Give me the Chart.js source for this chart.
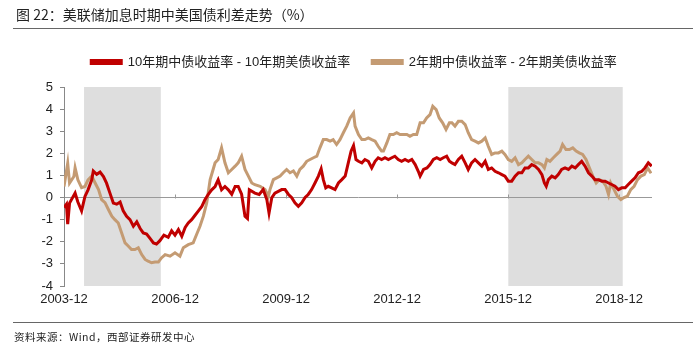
<!DOCTYPE html>
<html>
<head>
<meta charset="utf-8">
<script src="https://cdn.jsdelivr.net/npm/chart.js@4.4.0/dist/chart.umd.min.js"></script>
<style>
  html, body { margin: 0; padding: 0; background: #fff; }
  #wrap { position: relative; width: 693px; height: 347px; overflow: hidden; }
  #chart { position: absolute; left: 0; top: 0; }
  .title { position: absolute; left: 16px; top: 4px; font: 14px "Noto Sans CJK SC", sans-serif; color: #222; }
  .rule { position: absolute; left: 13px; right: 0; height: 1px; background: #666; }
  .source { position: absolute; left: 14px; top: 329px; font: 10.5px "Noto Sans CJK SC", sans-serif; color: #222; letter-spacing: 0.5px; }
</style>
</head>
<body>
<div id="wrap">
  <canvas id="chart" width="693" height="347"></canvas>
  <div class="title">图 22：美联储加息时期中美国债利差走势（%）</div>
  <div class="rule" style="top:28px"></div>
  <div class="rule" style="top:322px"></div>
  <div class="source">资料来源：Wind，西部证券研发中心</div>
</div>
<script>
// months counted from 2003-12
const seriesNames = ['10年期中债收益率 - 10年期美债收益率', '2年期中债收益率 - 2年期美债收益率'];

const spread10yMonths = [0, 0.8, 1.2, 1.8, 3.6, 4.5, 5.7, 6.8, 7.8, 9, 9.5, 10.6, 11.7, 12.8, 13.8, 14.9, 16, 17.1, 18.2, 19.2,
  20.3, 21.4, 22.5, 23.6, 24.7, 25.7, 26.8, 27.9, 29, 30, 31.1, 32.4, 33.8, 34.9, 36, 37.1, 38.2, 39.3, 40.3, 41.4,
  42.5, 43.6, 44.7, 45.7, 46.8, 47.9, 49, 50, 51.1, 52.2, 53.3, 54.4, 55.5, 56.5, 57.6, 58.7, 59.5, 60.1, 61.9, 63.3,
  64.6, 65.8, 66.5, 67.4, 68.4, 69.5, 70.6, 71.7, 72.8, 73.8, 74.9, 76, 77.1, 78.2, 79.2, 80.3, 81.4, 82.5, 83.4, 84.1,
  84.9, 85.7, 86.8, 87.9, 89, 90.1, 91.2, 92.2, 93.1, 93.9, 94.7, 95.5, 96.6, 97.6, 98.7, 99.8, 100.9, 101.9, 103, 104.1,
  105.2, 106.3, 107.3, 108.4, 109.5, 110.6, 111.7, 112.8, 113.9, 114.9, 115.5, 116.6, 117.7, 118.7, 119.8, 120.9, 122, 123, 124.1, 125,
  125.8, 126.8, 127.9, 129, 130.1, 131.1, 132.2, 133.3, 134.4, 135.5, 136.6, 137.6, 138.7, 139.8, 140.9, 142, 143, 144.1, 145.2, 146.3,
  147.4, 148.5, 149.5, 150.6, 151.7, 152.8, 153.9, 155, 155.8, 156.4, 157.1, 158.2, 159.3, 160.3, 161.4, 162.5, 163.6, 164.7, 165.8, 166.8,
  167.9, 169, 170.1, 171.2, 172.2, 173.3, 174.4, 175.5, 176.6, 177.6, 178.7, 179.8, 180.9, 182, 183, 184.1, 185.2, 186.3, 187.4, 188.4,
  189.5, 190.6];
const spread10y = [-0.45, -0.3, -1.2, -0.25, 0.2, -0.2, -0.6, 0.05, 0.35, 0.8, 1.2, 1.05, 1.15, 0.95, 0.65, 0.2, -0.25, -0.3, -0.2, -0.6,
  -0.85, -1.0, -1.3, -1.1, -1.4, -1.6, -1.65, -1.85, -2.05, -2.1, -1.95, -1.7, -1.8, -1.5, -1.7, -1.45, -1.75, -1.35, -1.15, -1.0,
  -0.8, -0.6, -0.4, -0.1, 0.15, 0.35, 0.5, 0.8, 0.35, 0.5, 0.35, 0.15, 0.5, 0.5, 0.15, -0.85, -0.95, 0.35, 0.2, 0.14,
  0.36, -0.1, -0.7, 0.0, 0.2, 0.28, 0.36, 0.36, 0.14, 0.0, -0.24, -0.4, -0.24, 0.0, 0.14, 0.36, 0.66, 0.97, 1.3, 0.81,
  0.44, 0.51, 0.44, 0.36, 0.66, 0.81, 0.97, 1.57, 2.1, 2.35, 1.72, 1.64, 1.57, 1.72, 1.64, 1.34, 1.64, 1.8, 1.72, 1.8,
  1.72, 1.8, 1.87, 1.72, 1.64, 1.72, 1.64, 1.72, 1.49, 1.19, 0.97, 1.27, 1.34, 1.49, 1.72, 1.8, 1.72, 1.8, 1.87, 1.64,
  1.57, 1.49, 1.72, 1.87, 1.57, 1.27, 1.57, 1.72, 1.57, 1.42, 1.64, 1.27, 1.34, 1.19, 1.12, 1.04, 0.97, 0.74, 0.74, 0.97,
  1.12, 1.12, 1.34, 1.34, 1.49, 1.42, 1.27, 1.04, 0.66, 0.51, 0.81, 0.97, 0.89, 1.04, 1.27, 1.34, 1.27, 1.42, 1.34, 1.49,
  1.64, 1.42, 1.12, 0.97, 0.81, 0.81, 0.74, 0.74, 0.66, 0.59, 0.51, 0.36, 0.44, 0.44, 0.59, 0.74, 0.89, 1.12, 1.19, 1.34,
  1.57, 1.42];

const spread2yMonths = [0, 1.2, 1.8, 3.2, 3.6, 4.5, 5.7, 6.8, 7.8, 9, 10.1, 11.2, 12.2, 13.3, 14.4, 15.5, 16.5, 17.6, 18.7, 19.8,
  20.9, 21.9, 23, 24.1, 25.2, 26.3, 27.3, 28.4, 29.5, 30.6, 31.6, 32.8, 34.4, 36, 37.6, 38.7, 40.3, 41.9, 43, 44.1,
  45.2, 46.3, 47.4, 48.2, 49, 50, 51.1, 52.2, 53.3, 54.4, 55.5, 56.5, 57.6, 58.7, 59.8, 60.9, 61.9, 63.6, 65.2, 66.3,
  66.8, 67.9, 69, 70.1, 71.1, 72.2, 73.3, 74.4, 75.5, 76.5, 77.6, 78.7, 79.8, 80.9, 82, 83, 84.1, 85.2, 86.3, 87.3,
  88.4, 89.5, 90.6, 91.7, 92.8, 93.9, 94.4, 95.5, 96.6, 97.6, 98.7, 99.8, 100.9, 101.9, 103, 103.6, 104.7, 105.7, 106.8, 107.9,
  109, 110.1, 111.2, 112.2, 113.3, 114.4, 115.5, 116.6, 117.6, 118.7, 119.6, 120.7, 121.7, 122.8, 123.9, 125, 125.8, 126.8, 127.9, 129,
  130.1, 131.1, 132.2, 133.3, 134.4, 135.5, 136.6, 137.6, 138.7, 139.8, 140.9, 142, 143, 144.1, 145.2, 146.3, 147.4, 148.5, 149.5, 150.6,
  151.7, 152.8, 153.9, 155, 155.8, 156.6, 157.6, 158.7, 159.8, 160.9, 161.7, 162.8, 163.9, 165, 166.1, 167.1, 168.2, 169.3, 170.4, 171.5,
  172.6, 173.6, 174.7, 175.8, 176.6, 177.3, 178.4, 179.5, 180.6, 181.6, 182.7, 183.8, 184.9, 186, 187.1, 188.2, 189.3, 190.4];
const spread2y = [0.5, 1.55, 0.65, 0.95, 1.35, 0.8, 0.45, 0.5, 0.8, 0.97, 0.66, 0.36, -0.09, -0.23, -0.54, -0.84, -1.0, -1.15, -1.6, -2.05,
  -2.2, -2.35, -2.35, -2.27, -2.58, -2.8, -2.88, -2.95, -2.92, -2.92, -2.73, -2.58, -2.65, -2.5, -2.65, -2.27, -2.13, -2.05, -1.67, -1.3,
  -0.84, -0.23, 0.81, 1.19, 1.57, 1.72, 2.25, 1.57, 1.12, 1.27, 1.42, 1.57, 1.87, 1.27, 0.97, 0.66, 0.58, 0.51, 0.36, 0.06,
  0.36, 0.81, 0.89, 0.97, 1.12, 1.27, 1.12, 1.2, 0.97, 1.27, 1.42, 1.64, 1.72, 1.8, 1.87, 2.25, 2.62, 2.62, 2.55, 2.62,
  2.4, 2.62, 2.93, 3.23, 3.6, 3.83, 3.23, 2.85, 2.62, 2.62, 2.7, 2.62, 2.55, 2.32, 2.1, 2.1, 2.47, 2.85, 2.85, 2.93,
  2.85, 2.85, 2.85, 2.77, 2.85, 2.85, 3.38, 3.38, 3.6, 3.75, 4.13, 3.98, 3.6, 3.38, 3.08, 3.38, 3.38, 3.23, 3.45, 3.45,
  3.3, 2.93, 2.62, 2.55, 2.47, 2.55, 2.7, 2.32, 1.95, 2.02, 2.02, 2.1, 1.95, 1.72, 1.64, 1.8, 1.49, 1.57, 1.72, 1.87,
  1.72, 1.57, 1.57, 1.49, 1.34, 1.72, 1.64, 1.8, 1.95, 2.1, 2.4, 2.17, 2.17, 2.25, 2.1, 2.02, 1.95, 1.72, 1.34, 0.97,
  0.66, 0.81, 0.74, 0.51, 0.14, 0.66, 0.36, 0.06, -0.09, 0.0, 0.06, 0.36, 0.51, 0.81, 0.97, 1.04, 1.34, 1.1];

// Fed hiking periods (month offsets)
const hikeStart = [6.5, 144.1];
const hikeEnd = [31.4, 181.2];

const xTicks = [0, 36, 72, 108, 144, 180];
const yMin = -4, yMax = 5;

const red = '#c00000';
const tan = '#c49b73';

function toPoints(xs, ys) {
  return xs.map((x, i) => ({ x: x, y: ys[i] }));
}

const shading = {
  id: 'shading',
  beforeDraw(chart) {
    const ctx = chart.ctx, x = chart.scales.x, a = chart.chartArea;
    ctx.save();
    ctx.fillStyle = '#dedede';
    for (let i = 0; i < hikeStart.length; i++) {
      const x0 = x.getPixelForValue(hikeStart[i]);
      const x1 = x.getPixelForValue(hikeEnd[i]);
      ctx.fillRect(x0, a.top, x1 - x0, a.bottom - a.top);
    }
    ctx.restore();
  }
};

const zeroTicks = {
  id: 'zeroTicks',
  beforeDatasetsDraw(chart) {
    const ctx = chart.ctx, x = chart.scales.x, y = chart.scales.y;
    const y0 = Math.round(y.getPixelForValue(0)) + 0.5;
    ctx.save();
    ctx.strokeStyle = '#999';
    ctx.lineWidth = 1;
    xTicks.slice(1).forEach(t => {
      const px = Math.round(x.getPixelForValue(t)) + 0.5;
      ctx.beginPath();
      ctx.moveTo(px, y0);
      ctx.lineTo(px, y0 - 4);
      ctx.stroke();
    });
    ctx.restore();
  }
};

// legend sits a bit right of centre and leaves a gap above the plot
const legendPlace = {
  id: 'legendPlace',
  beforeInit(chart) {
    if (!chart.legend) return;
    const fit = chart.legend.fit;
    chart.legend.fit = function () {
      fit.call(this);
      this.height += 8.5;
    };
  },
  afterLayout(chart) {
    const lg = chart.legend;
    if (!lg) return;
    lg.left += 28;
    lg.right += 28;
  }
};

new Chart(document.getElementById('chart'), {
  type: 'line',
  data: {
    datasets: [{
      label: seriesNames[0],
      data: toPoints(spread10yMonths, spread10y),
      borderColor: red,
      backgroundColor: red,
      borderWidth: 3,
      pointRadius: 0,
      tension: 0
    }, {
      label: seriesNames[1],
      data: toPoints(spread2yMonths, spread2y),
      borderColor: tan,
      backgroundColor: tan,
      borderWidth: 3,
      pointRadius: 0,
      tension: 0
    }]
  },
  options: {
    responsive: false,
    animation: false,
    layout: { padding: { left: 0, right: 41, top: 33.5, bottom: 33.4 } },
    plugins: {
      legend: {
        display: true,
        position: 'top',
        labels: {
          boxWidth: 30,
          boxHeight: 3,
          padding: 22,
          color: '#222',
          font: { size: 13, family: "'Liberation Sans', 'Noto Sans CJK SC', sans-serif" }
        }
      },
      tooltip: { enabled: false }
    },
    scales: {
      x: {
        type: 'linear',
        min: 0,
        max: 190.7,
        afterBuildTicks(scale) {
          scale.ticks = xTicks.map(v => ({ value: v }));
        },
        grid: { display: false, drawTicks: false },
        border: { display: false },
        ticks: {
          padding: 6,
          color: '#222',
          maxRotation: 0,
          font: { size: 13, family: "'Liberation Sans', sans-serif" },
          callback: v => (2003 + v / 12) + '-12'
        }
      },
      y: {
        min: yMin,
        max: yMax,
        afterFit(scale) { scale.width = 64; },
        grid: {
          color: c => (c.tick && c.tick.value === 0 ? '#999' : 'rgba(0,0,0,0)'),
          tickColor: '#888',
          tickLength: 4,
          lineWidth: 1
        },
        border: { display: true, color: '#888', width: 1 },
        ticks: {
          stepSize: 1,
          padding: 7,
          color: '#222',
          font: { size: 13, family: "'Liberation Sans', sans-serif" }
        }
      }
    }
  },
  plugins: [shading, zeroTicks, legendPlace]
});
</script>
</body>
</html>
